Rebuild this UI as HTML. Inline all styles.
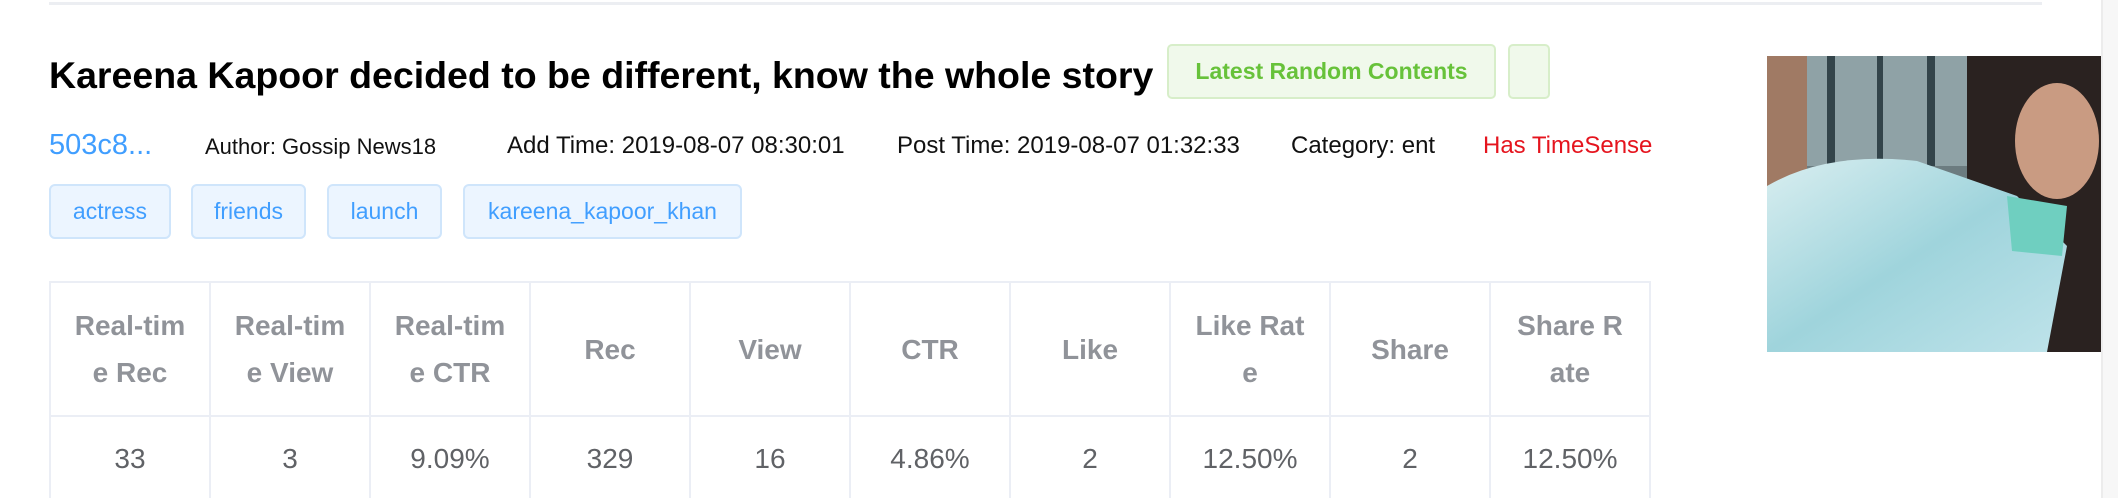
<!DOCTYPE html>
<html style="overflow:hidden;width:2118px;height:498px"><head><meta charset="utf-8"><style>
*{box-sizing:border-box;margin:0;padding:0}
body{width:2118px;height:498px;overflow:hidden;background:#fff;font-family:"Liberation Sans",Arial,sans-serif;position:relative}
.abs{position:absolute}
.topline{left:49px;top:2px;width:1993px;height:3px;background:#eceef2}
.scroll{left:2101px;top:0;width:17px;height:498px;background:#f7f7f7;border-left:2px solid #ececec}
.title{left:49px;top:53px;font-size:37.5px;font-weight:bold;color:#000;white-space:nowrap;line-height:44px}
.gtag{top:44px;height:55px;background:#f0f9eb;border:2px solid #d7eec9;border-radius:5px;color:#67c23a;font-size:23px;font-weight:bold;line-height:51px;text-align:center}
.meta{top:131px;font-size:24px;line-height:30px;color:#111;white-space:nowrap}
.tag{top:184px;height:55px;background:#ecf5ff;border:2px solid #cfe5fb;border-radius:6px;color:#409eff;font-size:23px;line-height:51px;text-align:center}
.tbl{position:absolute;left:49px;top:281px;width:1605px;height:217px;overflow:hidden}
table{border-collapse:collapse;table-layout:fixed}
td,th{border:2px solid #ebeef5;width:160px;text-align:center}
th{height:134px;color:#909399;font-size:28px;font-weight:bold;line-height:47px}
td{height:82px;color:#606266;font-size:28px;vertical-align:top;padding-top:26px;border-bottom:none}
</style></head><body>
<div class="abs topline"></div>
<div class="abs scroll"></div>
<div class="abs title">Kareena Kapoor decided to be different, know the whole story</div>
<div class="abs gtag" style="left:1167px;width:329px">Latest Random Contents</div>
<div class="abs gtag" style="left:1508px;width:42px"></div>
<div class="abs meta" style="left:49px;color:#409eff;font-size:29px;top:130px">503c8...</div>
<div class="abs meta" style="left:205px;font-size:22px;top:132px">Author: Gossip News18</div>
<div class="abs meta" style="left:507px">Add Time: 2019-08-07 08:30:01</div>
<div class="abs meta" style="left:897px">Post Time: 2019-08-07 01:32:33</div>
<div class="abs meta" style="left:1291px">Category: ent</div>
<div class="abs meta" style="left:1483px;color:#e5141e">Has TimeSense</div>
<div class="abs tag" style="left:49px;width:122px">actress</div>
<div class="abs tag" style="left:191px;width:115px">friends</div>
<div class="abs tag" style="left:327px;width:115px">launch</div>
<div class="abs tag" style="left:463px;width:279px">kareena_kapoor_khan</div>
<div class="tbl">
<table>
<tr>
<th>Real-tim<br>e Rec</th>
<th>Real-tim<br>e View</th>
<th>Real-tim<br>e CTR</th>
<th>Rec</th>
<th>View</th>
<th>CTR</th>
<th>Like</th>
<th>Like Rat<br>e</th>
<th>Share</th>
<th>Share R<br>ate</th>
</tr>
<tr>
<td>33</td>
<td>3</td>
<td>9.09%</td>
<td>329</td>
<td>16</td>
<td>4.86%</td>
<td>2</td>
<td>12.50%</td>
<td>2</td>
<td>12.50%</td>
</tr>
</table>
</div>
<svg class="abs" style="left:1767px;top:56px" width="334" height="296" viewBox="0 0 334 296">
<defs>
<linearGradient id="cloth" x1="0" y1="0" x2="1" y2="1"><stop offset="0" stop-color="#d9eef0"/><stop offset="0.5" stop-color="#9fd4dc"/><stop offset="1" stop-color="#bfe3ea"/></linearGradient>
</defs>
<rect width="334" height="296" fill="#6c7c80"/>
<rect width="40" height="160" fill="#a07a64"/>
<rect x="40" width="160" height="110" fill="#8fa2a6"/>
<rect x="60" width="8" height="110" fill="#33444a"/>
<rect x="110" width="6" height="110" fill="#33444a"/>
<rect x="160" width="8" height="110" fill="#33444a"/>
<rect x="200" width="134" height="296" fill="#2a2220"/>
<ellipse cx="290" cy="85" rx="42" ry="58" fill="#c99b82"/>
<path d="M0 130 Q60 95 150 105 L250 140 L300 190 L280 296 L0 296 Z" fill="url(#cloth)"/>
<path d="M240 140 L300 150 L295 200 L245 195 Z" fill="#6fcfc0"/>
</svg>
</body></html>
